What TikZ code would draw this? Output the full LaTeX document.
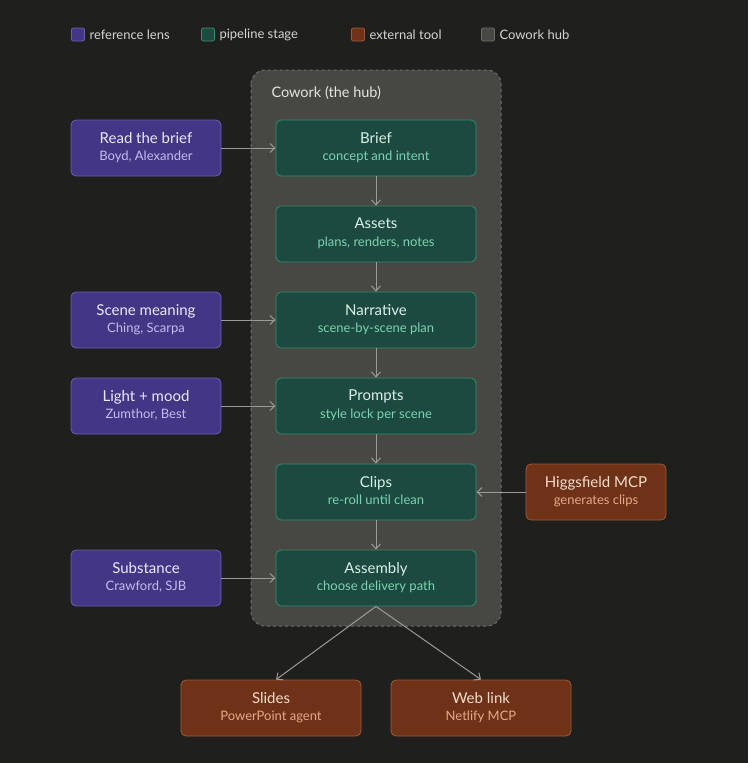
\documentclass[tikz,border=0pt]{standalone}
\usepackage{fontspec}
\setmainfont{Lato}
\usetikzlibrary{arrows.meta}
\definecolor{bg}{HTML}{1F1F1E}
\definecolor{pf}{HTML}{433785}\definecolor{pd}{HTML}{6A5FB0}\definecolor{pt}{HTML}{ECE8FA}\definecolor{ps}{HTML}{C4BCEE}
\definecolor{gf}{HTML}{1C4A40}\definecolor{gd}{HTML}{3A8A70}\definecolor{gt}{HTML}{DAF0E6}\definecolor{gs}{HTML}{7DD3B0}
\definecolor{of}{HTML}{6E3219}\definecolor{od}{HTML}{A05A3A}\definecolor{ot}{HTML}{F5DCCB}\definecolor{os}{HTML}{E8A888}
\definecolor{hf}{HTML}{474744}\definecolor{hd}{HTML}{6E6E6A}\definecolor{ht}{HTML}{E4E4E0}
\definecolor{ar}{HTML}{9A9A96}
\begin{document}
\begin{tikzpicture}[x=1pt,y=-1pt,
 box/.style={rounded corners=5pt,draw,line width=0.8pt,minimum height=56pt,align=center,inner sep=0pt},
 lens/.style={box,fill=pf,draw=pd,minimum width=150pt},
 stage/.style={box,fill=gf,draw=gd,minimum width=200pt},
 ext/.style={box,fill=of,draw=od,minimum width=140pt},
 outbox/.style={box,fill=of,draw=od,minimum width=180pt},
 arr/.style={draw=ar,line width=1pt,-{Straight Barb[length=5pt,width=9pt]}},
 leg/.style={rounded corners=2pt,draw,line width=0.8pt,minimum size=13pt,inner sep=0pt},
 lt/.style={anchor=west,text=ht!85!gray,font=\fontsize{13}{15}\selectfont}]
\fill[bg] (0,0) rectangle (748,763);
\useasboundingbox (0,0) rectangle (748,763);
% legend
\node[leg,fill=pf,draw=pd] (l1) at (78,34.5) {};
\node[lt] (l1t) at (86,34.5) {reference lens};
\node[leg,fill=gf,draw=gd] (l2) at (208,34.5) {};
\node[lt] (l2t) at (216,34.5) {pipeline stage};
\node[leg,fill=of,draw=od] (l3) at (358,34.5) {};
\node[lt] (l3t) at (366,34.5) {external tool};
\node[leg,fill=hf,draw=hd] (l4) at (488,34.5) {};
\node[lt] (l4t) at (496,34.5) {Cowork hub};
% hub
\draw[fill=hf,draw=hd,dashed,line width=1pt,rounded corners=14pt] (251,70) rectangle (501,626);
\node[anchor=west,text=ht,font=\fontsize{14.5}{16}\selectfont] (hubt) at (268,93) {Cowork (the hub)};
\newcommand{\lab}[4]{\raisebox{-3pt}{\begin{tabular}{@{}c@{}}{\fontsize{15}{18}\selectfont\color{#1}#3}\\[4pt]{\fontsize{13}{16}\selectfont\color{#2}#4}\end{tabular}}}
\node[stage] (brief) at (376,148) {\lab{gt}{gs}{Brief}{concept and intent}};
\node[stage] (assets) at (376,234) {\lab{gt}{gs}{Assets}{plans, renders, notes}};
\node[stage] (narr) at (376,320) {\lab{gt}{gs}{Narrative}{scene-by-scene plan}};
\node[stage] (prom) at (376,406) {\lab{gt}{gs}{Prompts}{style lock per scene}};
\node[stage] (clips) at (376,492) {\lab{gt}{gs}{Clips}{re-roll until clean}};
\node[stage] (asm) at (376,578) {\lab{gt}{gs}{Assembly}{choose delivery path}};
\node[lens] (rb) at (146,148) {\lab{pt}{ps}{Read the brief}{Boyd, Alexander}};
\node[lens] (sm) at (146,320) {\lab{pt}{ps}{Scene meaning}{Ching, Scarpa}};
\node[lens] (lm) at (146,406) {\lab{pt}{ps}{Light + mood}{Zumthor, Best}};
\node[lens] (sb) at (146,578) {\lab{pt}{ps}{Substance}{Crawford, SJB}};
\node[ext] (hig) at (596,492) {\lab{ot}{os}{Higgsfield MCP}{generates clips}};
\node[outbox] (sl) at (271,708) {\lab{ot}{os}{Slides}{PowerPoint agent}};
\node[outbox] (wl) at (481,708) {\lab{ot}{os}{Web link}{Netlify MCP}};
\draw[arr] (brief) -- (assets);
\draw[arr] (assets) -- (narr);
\draw[arr] (narr) -- (prom);
\draw[arr] (prom) -- (clips);
\draw[arr] (clips) -- (asm);
\draw[arr] (rb) -- (brief);
\draw[arr] (sm) -- (narr);
\draw[arr] (lm) -- (prom);
\draw[arr] (sb) -- (asm);
\draw[arr] (hig) -- (clips);
\draw[arr] (asm.south) -- ([xshift=5pt]sl.north);
\draw[arr] (asm.south) -- (wl.north);
\end{tikzpicture}
\end{document}
